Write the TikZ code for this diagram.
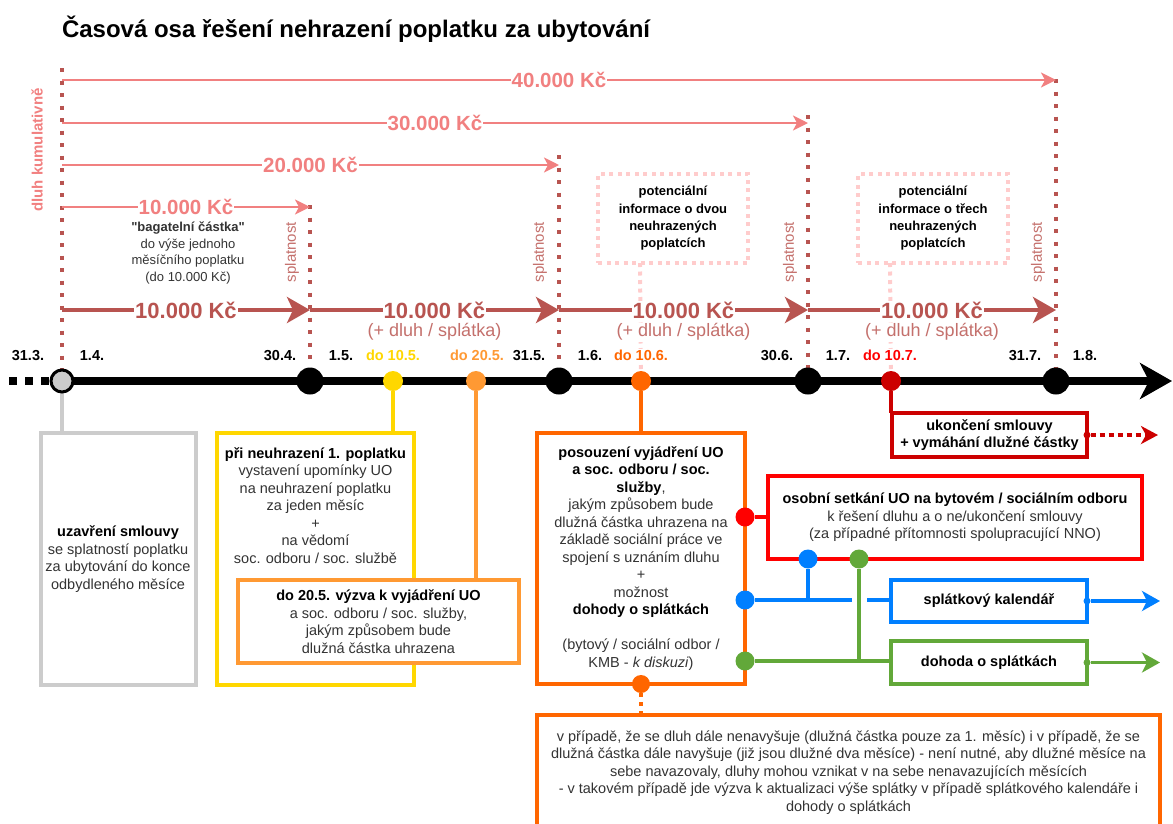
\documentclass[tikz,border=0pt]{standalone}
\usepackage{fontspec}
\setmainfont{Liberation Sans}[Ligatures=TeXOff]
\usetikzlibrary{arrows.meta,backgrounds}

\definecolor{salmonc}{RGB}{241,128,128}
\definecolor{dredc}{RGB}{184,84,80}
\definecolor{dredtxt}{RGB}{196,112,108}
\definecolor{pinkc}{RGB}{255,204,204}
\definecolor{greyc}{RGB}{204,204,204}
\definecolor{yellowc}{RGB}{255,215,0}
\definecolor{lorangec}{RGB}{255,153,51}
\definecolor{dorangec}{RGB}{255,102,0}
\definecolor{redac}{RGB}{204,0,0}
\definecolor{redbc}{RGB}{255,0,0}
\definecolor{bluec}{RGB}{0,127,255}
\definecolor{greenc}{RGB}{98,168,57}
\definecolor{txtc}{RGB}{51,51,51}

\newcommand{\fsz}[2]{\fontsize{#1}{#2}\selectfont}
\newcommand{\hb}[1]{\textbf{\color{black}#1}}

\begin{document}
\begin{tikzpicture}[x=1pt,y=-1pt,
  every node/.style={inner sep=0pt, outer sep=0pt},
  boxtext/.style={font=\fsz{14.5}{17.5}, text=txtc, align=center},
  frame/.style={draw, line width=4pt, fill=white, rectangle},
  tdot/.style={circle, fill=black, minimum size=27pt},
  cdot/.style={circle, minimum size=20pt},
  edot/.style={circle, minimum size=19pt},
  tinydot/.style={circle, minimum size=7pt},
  datelbl/.style={font=\fsz{14.5}{16}\bfseries, anchor=base, fill=white, inner xsep=1pt, inner ysep=1pt},
  cumul/.style={draw=salmonc, line width=2.5pt, -{Stealth[length=15pt,width=15pt,inset=4pt]}},
  cumlbl/.style={fill=white, text=salmonc, font=\fsz{20.5}{24}\bfseries, inner xsep=1pt, inner ysep=2pt},
  month/.style={draw=dredc, line width=4pt, -{Stealth[length=23pt,width=26pt,inset=6pt]}},
  monlbl/.style={fill=white, text=dredc, font=\fsz{22}{26}\bfseries, inner xsep=1pt, inner ysep=1pt},
  sublbl/.style={text=dredtxt, font=\fsz{18}{22}, fill=white, inner sep=1pt},
  splat/.style={text=dredtxt, font=\fsz{15}{17}, rotate=90},
  vdots/.style={draw=dredc, line width=4pt, dash pattern=on 4pt off 8.5pt},
  pinkbox/.style={draw=pinkc, line width=4pt, dash pattern=on 4pt off 4.5pt, rectangle,
    font=\fsz{13}{17.3}\bfseries, align=center},
  pinkline/.style={draw=pinkc, line width=4pt, dash pattern=on 4pt off 4.5pt},
  conn/.style={line width=3.5pt},
  sidearrow/.style={line width=3.5pt, -{Stealth[length=18pt,width=20pt,inset=5pt]}},
]
\useasboundingbox (0,0) rectangle (1173,823);

% title
\node[anchor=base west, font=\fsz{24}{28}\bfseries] (title) at (62,37)
  {Časová osa řešení nehrazení poplatku za ubytování};

% side caption of the cumulative debt arrows
\node[rotate=90, text=salmonc, font=\fsz{15}{17}\bfseries] (kum) at (37,150) {dluh kumulativně};

% ---------- timeline dots ----------
\node[tdot, fill=greyc, draw=black, line width=3pt, minimum size=22pt] (t0) at (62,381) {};
\node[tdot] (t1) at (310,381) {};
\node[tdot] (t2) at (559,381) {};
\node[tdot] (t3) at (808,381) {};
\node[tdot] (t4) at (1056,381) {};
\node[cdot, fill=yellowc] (ty) at (393,381) {};
\node[cdot, fill=lorangec] (tlo) at (476,381) {};
\node[cdot, fill=dorangec] (tdo) at (641,381) {};
\node[cdot, fill=redac] (tr) at (891,381) {};

\coordinate (tlstart) at (9,381);
\coordinate (tlend) at (1172,381);

% ---------- date labels ----------
\node[datelbl] (l313) at (28,360) {31.3.};
\node[datelbl] (l14) at (92,360) {1.4.};
\node[datelbl] (l304) at (280,360) {30.4.};
\node[datelbl] (l15) at (341,360) {1.5.};
\node[datelbl, text=yellowc] (l105) at (393,360) {do 10.5.};
\node[datelbl, text=lorangec] (l205) at (477,360) {do 20.5.};
\node[datelbl] (l315) at (529,360) {31.5.};
\node[datelbl] (l16) at (590,360) {1.6.};
\node[datelbl, text=dorangec] (l106) at (641,360) {do 10.6.};
\node[datelbl] (l306) at (777,360) {30.6.};
\node[datelbl] (l17) at (838,360) {1.7.};
\node[datelbl, text=redbc] (l107) at (890,360) {do 10.7.};
\node[datelbl] (l317) at (1025,360) {31.7.};
\node[datelbl] (l18) at (1085,360) {1.8.};

% ---------- due-date guides ----------
\coordinate (v0) at (62,68);
\coordinate (v1) at (310,205);
\coordinate (v2) at (559,155);
\coordinate (v3) at (808,115);
\coordinate (v4) at (1056,79);

\node[splat] (sp1) at (292,252) {splatnost};
\node[splat] (sp2) at (540,252) {splatnost};
\node[splat] (sp3) at (790,252) {splatnost};
\node[splat] (sp4) at (1038,252) {splatnost};

% ---------- cumulative debt arrows ----------
\coordinate (s40) at (62,80);  \coordinate (e40) at (1056,80);
\coordinate (s30) at (62,123); \coordinate (e30) at (808,123);
\coordinate (s20) at (62,165); \coordinate (e20) at (559,165);
\coordinate (s10) at (62,207); \coordinate (e10) at (310,207);
\draw[cumul] (s40) -- node[cumlbl] (k40) {40.000 Kč} (e40);
\draw[cumul] (s30) -- node[cumlbl] (k30) {30.000 Kč} (e30);
\draw[cumul] (s20) -- node[cumlbl] (k20) {20.000 Kč} (e20);
\draw[cumul] (s10) -- node[cumlbl] (k10) {10.000 Kč} (e10);

\node[font=\fsz{13}{16.7}, text=txtc, align=center] (bag) at (188,253)
  {\textbf{"bagatelní částka"}\\do výše jednoho\\měsíčního poplatku\\(do 10.000 Kč)};

% ---------- monthly fee arrows ----------
\coordinate (m0) at (62,310);
\coordinate (m1) at (310,310);
\coordinate (m2) at (559,310);
\coordinate (m3) at (808,310);
\coordinate (m4) at (1056,310);

% ---------- possible notices ----------
\node[pinkbox, minimum width=150pt, minimum height=89pt] (pb1) at (673,218.5)
  {potenciální\\informace o dvou\\neuhrazených\\poplatcích};
\node[pinkbox, minimum width=150pt, minimum height=89pt] (pb2) at (933,218.5)
  {potenciální\\informace o třech\\neuhrazených\\poplatcích};
\coordinate (pc1) at (640,263);
\coordinate (pc2) at (890,263);

\draw[month] (m0) -- node[monlbl] (ma1) {10.000 Kč} (m1);
\draw[month] (m1) -- node[monlbl] (ma2) {10.000 Kč} (m2);
\draw[month] (m2) -- node[monlbl] (ma3) {10.000 Kč} (m3);
\draw[month] (m3) -- node[monlbl] (ma4) {10.000 Kč} (m4);
\node[sublbl] (sb2) at (434.5,332) {(+ dluh / splátka)};
\node[sublbl] (sb3) at (683.5,332) {(+ dluh / splátka)};
\node[sublbl] (sb4) at (932,332) {(+ dluh / splátka)};

% ---------- boxes below the timeline ----------
\node[frame, draw=greyc, minimum width=155pt, minimum height=252pt, boxtext] (uzav) at (118,559)
  {\hb{uzavření smlouvy}\\se splatností poplatku\\za ubytování do konce\\odbydleného měsíce};

\node[frame, draw=yellowc, minimum width=197pt, minimum height=252pt] (ybox) at (315.5,559) {};
\node[boxtext] (ytxt) at (315.5,505.5)
  {\hb{při neuhrazení 1. poplatku}\\vystavení upomínky UO\\na neuhrazení poplatku\\za jeden měsíc\\+\\na vědomí\\soc. odboru / soc. službě};

\node[frame, draw=lorangec, minimum width=281pt, minimum height=83pt, boxtext] (lobox) at (378.5,621.5)
  {\hb{do 20.5. výzva k vyjádření UO}\\a soc. odboru / soc. služby,\\jakým způsobem bude\\dlužná částka uhrazena};

\node[frame, draw=dorangec, minimum width=208pt, minimum height=251pt, boxtext] (posou) at (641,558.5)
  {\hb{posouzení vyjádření UO}\\\hb{a soc. odboru / soc.}\\\hb{služby},\\jakým způsobem bude\\dlužná částka uhrazena na\\základě sociální práce ve\\spojení s uznáním dluhu\\+\\možnost\\\hb{dohody o splátkách}\\[17.5pt](bytový / sociální odbor /\\KMB - \textit{k diskuzi})};

\node[frame, draw=dorangec, minimum width=623pt, minimum height=130pt] (bigbox) at (848.5,780) {};
\node[boxtext] (bigtxt) at (848.5,772.5)
  {v případě, že se dluh dále nenavyšuje (dlužná částka pouze za 1. měsíc) i v případě, že se\\dlužná částka dále navyšuje (již jsou dlužné dva měsíce) - není nutné, aby dlužné měsíce na\\sebe navazovaly, dluhy mohou vznikat v na sebe nenavazujících měsících\\- v takovém případě jde výzva k aktualizaci výše splátky v případě splátkového kalendáře i\\dohody o splátkách};

\node[frame, draw=redac, minimum width=195pt, minimum height=44pt, boxtext, font=\fsz{14.5}{16.5}\bfseries, text=black] (red1) at (989.5,435)
  {ukončení smlouvy\\+ vymáhání dlužné částky};

\node[frame, draw=redbc, minimum width=374pt, minimum height=83pt, boxtext] (red2) at (955,517.5)
  {\hb{osobní setkání UO na bytovém / sociálním odboru}\\k řešení dluhu a o ne/ukončení smlouvy\\(za případné přítomnosti spolupracující NNO)};

\node[frame, draw=bluec, minimum width=196pt, minimum height=42pt, font=\fsz{14.5}{16}\bfseries] (kal) at (989,601)
  {splátkový kalendář};
\node[frame, draw=greenc, minimum width=196pt, minimum height=43pt, font=\fsz{14.5}{16}\bfseries] (doh) at (989,662.5)
  {dohoda o splátkách};

% dots on box edges
\node[edot, fill=redbc] (er) at (745,517) {};
\node[edot, fill=bluec] (eb) at (745,600) {};
\node[edot, fill=greenc] (eg) at (745,661) {};
\node[edot, fill=bluec] (eb2) at (808,559) {};
\node[edot, fill=greenc] (eg2) at (859,559) {};
\node[edot, fill=dorangec, minimum size=18pt] (eo) at (641,684) {};
\node[tinydot, fill=redac] (r1e) at (red1.east) {};
\node[tinydot, fill=bluec] (kale) at (kal.east) {};
\node[tinydot, fill=greenc] (dohe) at (doh.east) {};

\coordinate (jb1) at (852,600);
\coordinate (jb2) at (867,600);
\coordinate (redend) at (1158,435);
\coordinate (kalend) at (1160,601);
\coordinate (dohend) at (1160,662.5);

\draw[sidearrow, bluec] (kale) -- (kalend);
\draw[sidearrow, greenc] (dohe) -- (dohend);
\draw[redac, line width=4pt, dash pattern=on 5pt off 4pt,
      -{Stealth[length=17pt,width=18pt,inset=5pt]}] (r1e) -- (redend);

% ---------- lines kept behind the shapes ----------
\begin{pgfonlayer}{background}
  \draw[vdots] (v0) -- (t0);
  \draw[vdots] (v1) -- (t1);
  \draw[vdots] (v2) -- (t2);
  \draw[vdots] (v3) -- (t3);
  \draw[vdots] (v4) -- (t4);
  \draw[pinkline] (pc1) -- (tdo);
  \draw[pinkline] (pc2) -- (tr);
  \draw[line width=8pt, dash pattern=on 8pt off 8pt] (tlstart) -- (t0.center);
  \draw[line width=8pt, -{Stealth[length=32pt,width=36pt,inset=9pt]}] (t0.center) -- (tlend);
  \draw[conn, greyc] (t0) -- (t0 |- uzav.north);
  \draw[conn, yellowc] (ty) -- (ty |- ybox.north);
  \draw[conn, lorangec] (tlo) -- (tlo |- lobox.north);
  \draw[conn, dorangec] (tdo) -- (tdo |- posou.north);
  \draw[conn, redac] (tr) -- (tr |- red1.north);
  \draw[conn, redbc] (er) -- (er -| red2.west);
  \draw[conn, bluec] (eb) -- (jb1);
  \draw[conn, bluec] (jb2) -- (eb -| kal.west);
  \draw[conn, bluec] (eb2) -- (eb2 |- eb);
  \draw[conn, greenc] (eg) -- (eg -| doh.west);
  \draw[conn, greenc] (eg2) -- (eg2 |- eg);
  \draw[conn, dorangec, line width=4pt, dash pattern=on 4pt off 5pt] (eo) -- (eo |- bigbox.north);
\end{pgfonlayer}
\end{tikzpicture}
\end{document}
